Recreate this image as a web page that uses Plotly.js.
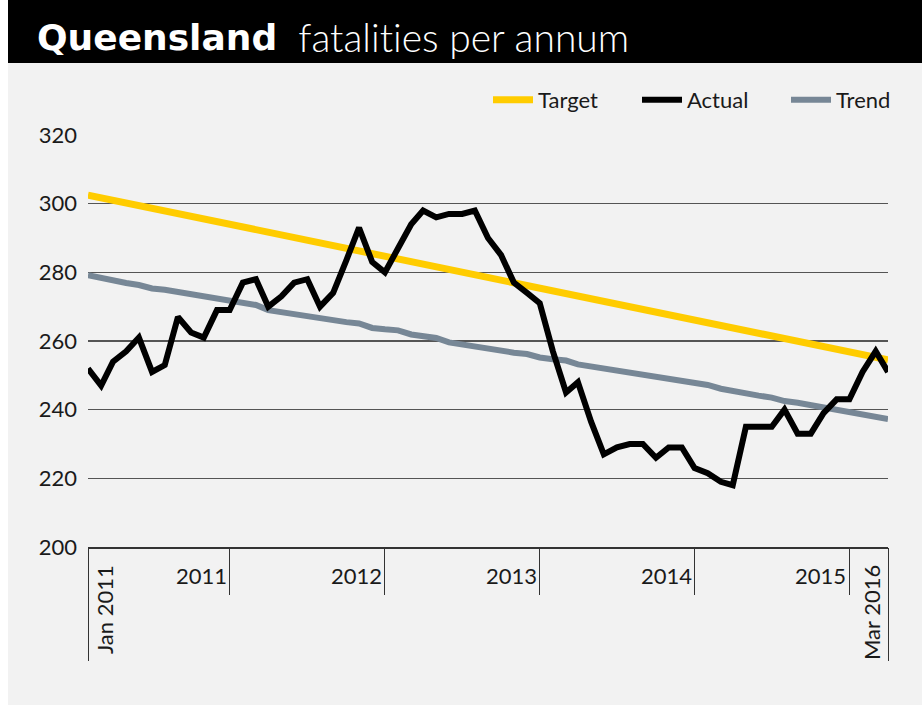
<!DOCTYPE html>
<html>
<head>
<meta charset="utf-8">
<script src="https://cdn.plot.ly/plotly-3.0.1.min.js"></script>
<style>
html,body{margin:0;padding:0;background:#ffffff;}
#chart{width:922px;height:705px;}
#chart text{font-variant-ligatures:none;font-feature-settings:"liga" 0;}
</style>
</head>
<body>
<div id="chart"></div>
<script>
// ---------- data ----------
const startYear = 2011, startMonth = 1;
const monthCount = 63; // Jan 2011 .. Mar 2016
const months = [];
for (let i = 0; i < monthCount; i++) {
  const m = (startMonth - 1 + i) % 12 + 1;
  const y = startYear + Math.floor((startMonth - 1 + i) / 12);
  months.push(y + '-' + String(m).padStart(2, '0') + '-01');
}

const actual = [252, 247, 254, 257, 261, 251, 253, 267, 262.5, 261,
                269, 269, 277, 278, 270, 273, 277, 278, 270, 274,
                283.5, 293, 283, 280, 287, 294, 298, 296, 297, 297,
                298, 290, 285, 277, 274, 271, 257, 245, 248, 236.5,
                227, 229, 230, 230, 226, 229, 229, 223, 221.5, 219,
                218, 235, 235, 235, 240, 233, 233, 239, 243, 243,
                251, 257, 251];

const trend = [279.2, 278.3, 277.4, 276.9, 276.3, 275.3, 274.9, 274.3, 273.4, 272.9,
               272.4, 271.6, 271.1, 270.5, 269.0, 268.4, 267.9, 267.3, 266.3, 265.9,
               265.5, 265.1, 263.8, 263.4, 263.1, 261.9, 261.3, 260.9, 259.6, 259.0,
               258.4, 257.5, 257.0, 256.6, 256.2, 255.2, 254.7, 254.3, 253.2, 252.6,
               252.0, 251.1, 250.5, 250.0, 249.5, 248.9, 248.1, 247.6, 247.2, 246.1,
               245.6, 245.0, 244.1, 243.5, 242.5, 242.0, 241.3, 240.5, 239.6, 239.1,
               238.6, 237.9, 237.3];

const targetDates = ['2011-01-01', '2016-03-01'];
const target = [302.5, 254.5];

const yTicks = [200, 220, 240, 260, 280, 300, 320];
const yearDividers = ['2011-12-01', '2012-12-01', '2013-12-01', '2014-12-01', '2015-12-01'];
const yearLabels = ['2011', '2012', '2013', '2014', '2015'];
const endLabels = ['Jan 2011', 'Mar 2016'];

// ---------- layout helpers ----------
const FONT = 'Lato, "Open Sans", sans-serif';
const TXT = '#1a1a1a';
const L = 88, R = 34, T = 135, B = 158, W = 922, H = 705;
const plotW = W - L - R, plotH = H - T - B;
const px = p => (p - L) / plotW;           // page x -> paper x
const py = p => (H - B - p) / plotH;       // page y -> paper y

const traces = [
  {x: targetDates, y: target, name: 'Target', type: 'scatter', mode: 'lines',
   line: {color: '#FFCC00', width: 7}, legendrank: 1, hoverinfo: 'skip'},
  {x: months, y: trend, name: 'Trend', type: 'scatter', mode: 'lines',
   line: {color: '#778796', width: 6}, legendrank: 3},
  {x: months, y: actual, name: 'Actual', type: 'scatter', mode: 'lines',
   line: {color: '#000000', width: 6}, legendrank: 2},
  // helper trace on overlay axis for the long end dividers
  {x: [months[0], months[months.length - 1]], y: [null, null], xaxis: 'x2',
   showlegend: false, hoverinfo: 'skip', mode: 'lines'}
];

const annotations = [
  {text: '<b>Queensland</b>', xref: 'paper', yref: 'paper', x: px(35), y: py(37),
   xanchor: 'left', yanchor: 'middle', showarrow: false,
   font: {family: '"DejaVu Sans", sans-serif', size: 36, color: '#ffffff'}},
  {text: 'fatalities per annum', xref: 'paper', yref: 'paper', x: px(296), y: py(37),
   xanchor: 'left', yanchor: 'middle', showarrow: false,
   font: {family: FONT, size: 39, color: '#ffffff', weight: 300}}
];
yearDividers.forEach((d, i) => {
  annotations.push({text: yearLabels[i], xref: 'x', yref: 'paper', x: d, y: py(575),
    xanchor: 'right', yanchor: 'middle', xshift: -1, showarrow: false,
    font: {family: FONT, size: 22, color: TXT}});
});
annotations.push({text: endLabels[0], xref: 'x', yref: 'paper', x: months[0], y: py(563),
  xanchor: 'left', yanchor: 'top', xshift: 1, textangle: -90, showarrow: false,
  font: {family: FONT, size: 22, color: TXT}});
annotations.push({text: endLabels[1], xref: 'x', yref: 'paper', x: months[months.length - 1], y: py(563),
  xanchor: 'right', yanchor: 'top', xshift: -1, textangle: -90, showarrow: false,
  font: {family: FONT, size: 22, color: TXT}});

const shapes = [
  {type: 'rect', xref: 'paper', yref: 'paper', x0: px(8), x1: px(W + 2), y0: py(H + 2), y1: py(63),
   fillcolor: '#f2f2f2', line: {width: 0}, layer: 'below'},
  {type: 'rect', xref: 'paper', yref: 'paper', x0: px(8), x1: px(W + 2), y0: py(63), y1: py(-2),
   fillcolor: '#000000', line: {width: 0}, layer: 'below'}
];

const layout = {
  width: W, height: H,
  margin: {l: L, r: R, t: T, b: B, pad: 0, autoexpand: false},
  paper_bgcolor: '#ffffff',
  plot_bgcolor: 'rgba(0,0,0,0)',
  showlegend: true,
  legend: {orientation: 'h', xanchor: 'left', x: px(488), yanchor: 'middle', y: py(100),
           font: {family: FONT, size: 22, color: TXT}, bgcolor: 'rgba(0,0,0,0)',
           itemwidth: 40, traceorder: 'normal', entrywidth: 94, entrywidthmode: 'pixels'},
  xaxis: {type: 'date', range: [months[0], months[months.length - 1]],
          showgrid: false, zeroline: false, showline: true, linecolor: '#333', linewidth: 1.5,
          tickmode: 'array', tickvals: yearDividers, ticktext: yearDividers.map(() => ''),
          ticks: 'outside', ticklen: 46, tickwidth: 1, tickcolor: '#333', fixedrange: true},
  xaxis2: {type: 'date', overlaying: 'x', side: 'bottom', range: [months[0], months[months.length - 1]],
           showgrid: false, zeroline: false, showline: false,
           tickmode: 'array', tickvals: [months[0], months[months.length - 1]], ticktext: ['', ''],
           ticks: 'outside', ticklen: 113, tickwidth: 1, tickcolor: '#333', fixedrange: true},
  yaxis: {range: [200, 320], tickmode: 'array', tickvals: yTicks, ticktext: yTicks.map(String),
          showgrid: true, gridcolor: '#555555', gridwidth: 1.5, zeroline: false, showline: false,
          ticks: '', ticklabelstandoff: 10,
          tickfont: {family: FONT, size: 22, color: TXT}, fixedrange: true},
  annotations: annotations,
  shapes: shapes
};

Plotly.newPlot('chart', traces, layout, {displayModeBar: false, staticPlot: true});
</script>
</body>
</html>
